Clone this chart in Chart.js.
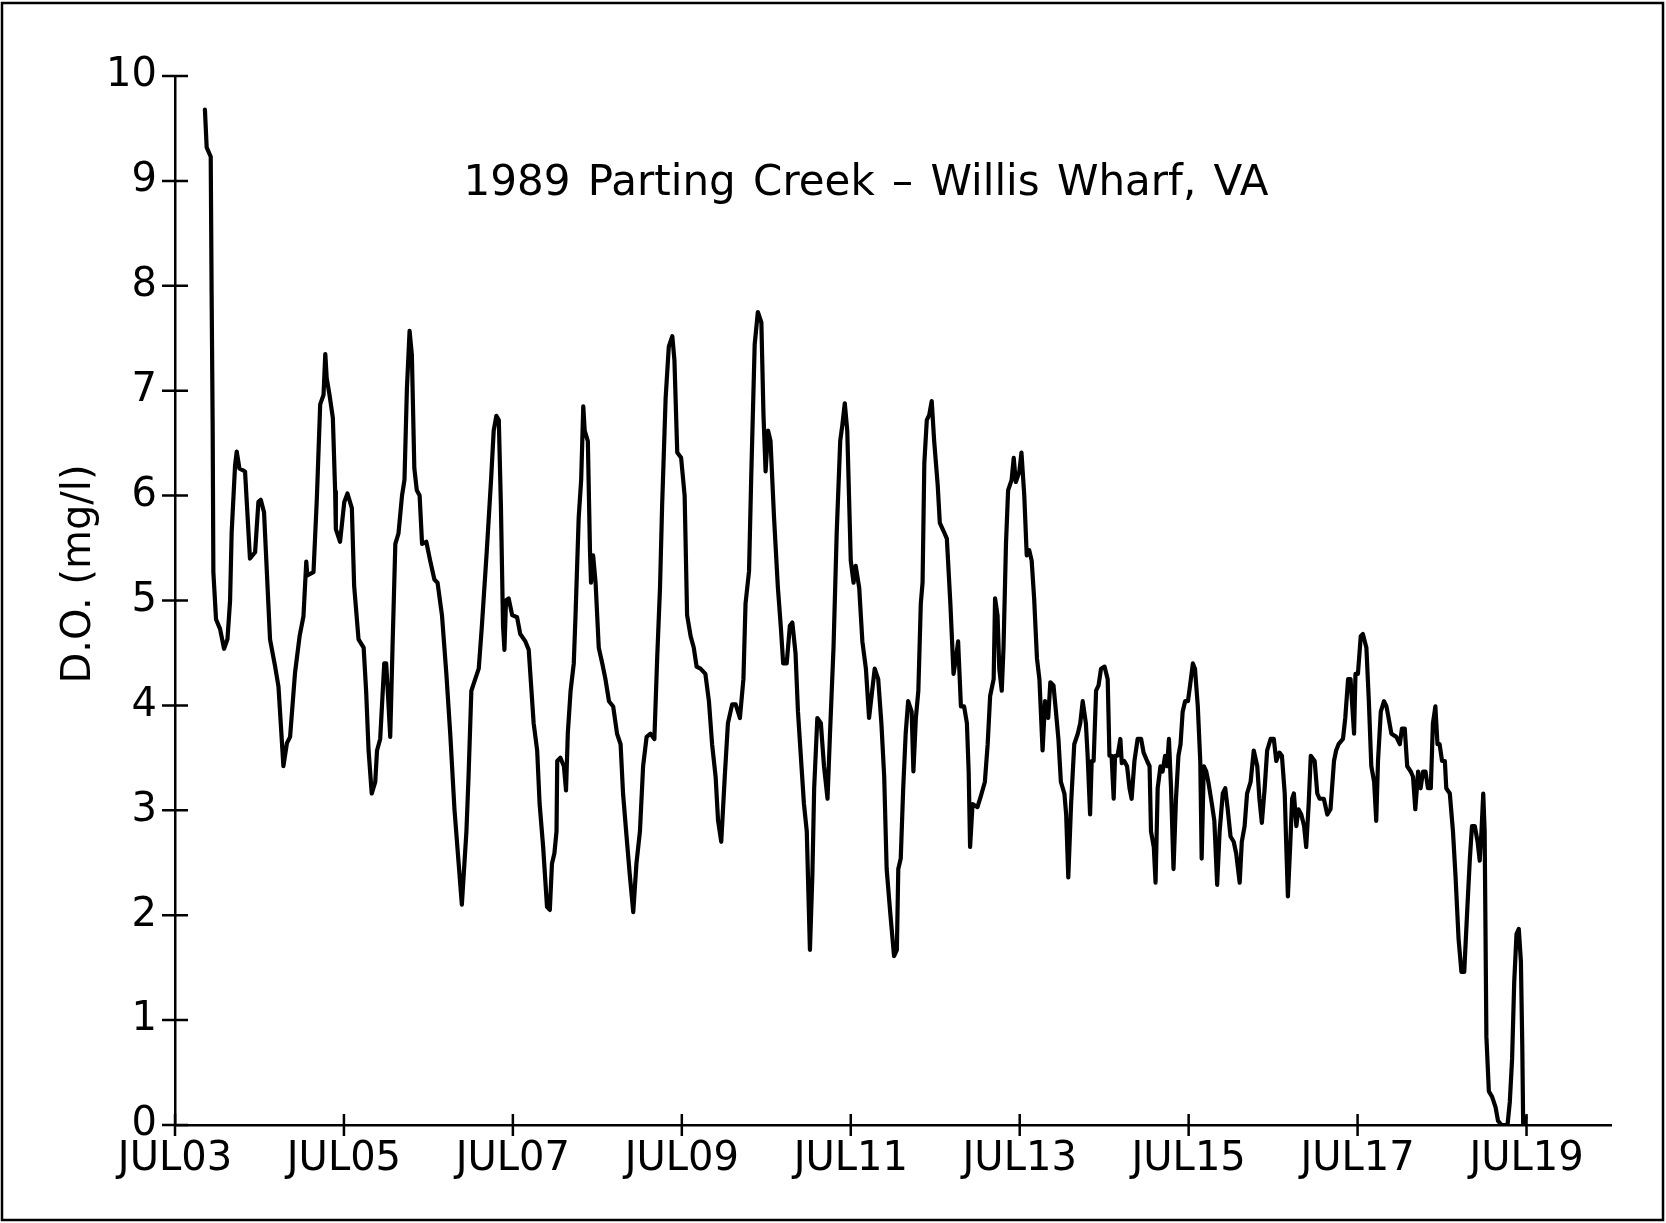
<!DOCTYPE html>
<html>
<head>
<meta charset="utf-8">
<title>1989 Parting Creek - Willis Wharf, VA</title>
<script src="https://cdn.jsdelivr.net/npm/chart.js@4.4.0/dist/chart.umd.min.js"></script>
<style>
  html, body { margin: 0; padding: 0; background: #fff; }
  #wrap { width: 1666px; height: 1223px; }
</style>
</head>
<body>
<div id="wrap"><canvas id="doChart" width="1666" height="1223"></canvas></div>
<script>
// Text
const chartTitle = "1989 Parting Creek – Willis Wharf, VA";
const yAxisTitle = "D.O. (mg/l)";

// x axis: hours since JUL 03 00:00, a tick every two days
const tickHours = [0, 48, 96, 144, 192, 240, 288, 336, 384];
const tickLabels = ["JUL03", "JUL05", "JUL07", "JUL09", "JUL11", "JUL13", "JUL15", "JUL17", "JUL19"];
const yTickValues = [0, 1, 2, 3, 4, 5, 6, 7, 8, 9, 10];

// Sample times (hours since JUL 03 00:00)
const hours = [
  8.5, 9.0, 10.15, 10.4, 10.7, 10.9, 11.66, 12.8, 13.94, 14.9, 15.65, 16.1, 17.07, 17.54, 18.3, 19.9,
  21.3, 22.76, 23.7, 24.37, 25.3, 27.0, 28.4, 29.4, 30.8, 31.8, 32.7, 34.1, 35.4, 36.5, 37.3, 37.6,
  39.35, 40.3, 41.25, 42.2, 42.7, 43.1, 43.9, 44.85, 45.5, 45.7, 46.9, 48.1, 49.0, 50.25, 50.9, 52.15,
  53.6, 54.3, 55.0, 55.9, 56.9, 57.4, 58.3, 59.45, 60.0, 60.4, 61.15, 61.8, 62.6, 63.5, 64.5, 65.2,
  65.9, 66.65, 67.3, 68.0, 68.7, 69.5, 70.2, 71.4, 72.5, 73.7, 74.6, 75.85, 77.1, 78.2, 79.4, 80.6,
  81.5, 82.8, 83.4, 84.2, 85.3, 86.3, 87.2, 88.6, 89.8, 90.55, 91.3, 92.0, 92.6, 93.2, 93.6, 94.05,
  94.8, 95.8, 97.2, 98.1, 99.55, 100.5,
  101.9, 102.9, 103.6, 104.6, 105.7, 106.5, 107.1, 107.8, 108.4, 108.6, 109.5, 110.5, 111.1, 111.6,
  112.4, 113.3, 113.8, 114.7, 115.4, 116.0, 116.4, 117.3, 117.9, 118.2, 118.8, 119.5, 120.4, 121.4,
  122.3, 123.3, 124.5, 125.6, 126.6, 127.3, 128.3, 129.2, 130.2, 131.1, 132.1, 133.0, 134.0, 135.1,
  136.2, 137.0, 137.8, 138.4, 139.4, 140.3, 141.3, 141.9, 142.7, 143.8, 144.8, 145.5, 146.5, 147.4, 148.2,
  149.3, 150.7, 151.7, 152.6, 153.6, 154.3, 155.2, 156.2, 157.1, 158.3, 159.3, 160.5, 161.5, 162.1,
  163.1, 163.7, 164.7, 165.6, 166.6, 167.2, 167.8, 168.5, 169.2, 170.2, 171.3, 172.1, 172.8, 173.8,
  174.7, 175.4, 176.3, 177.0, 178.0, 178.7, 179.5, 179.9, 180.4, 181.1, 181.6, 182.5, 183.5, 184.4,
  185.4, 186.1, 187.1, 188.0, 189.0, 189.6, 190.3, 191.0, 192.0, 192.8, 193.4, 194.4, 195.3, 196.3, 197.2,
  198.8, 199.8, 200.7, 201.5, 202.2, 203.2, 204.3, 205.1, 205.5, 206.2, 206.9, 207.6, 208.3, 209.3,
  209.8, 210.5, 211.2, 211.9, 212.4, 212.9, 213.6, 214.3, 215.0, 215.7, 216.7, 217.3, 218.4, 219.3,
  220.3, 221.2, 221.9, 222.5, 223.3, 224.2, 225.0, 225.5, 225.9, 226.6, 228.0, 229.0, 230.1, 230.9,
  231.6, 232.6, 233.0, 233.7, 234.2, 234.9, 235.4, 236.1, 236.7, 237.7, 238.3, 238.9, 239.9, 240.5,
  241.3, 242.0, 242.7, 243.4, 244.1, 244.9, 245.6,
  246.5, 247.2, 248.1, 248.7, 249.6, 250.3, 251.0, 251.7, 252.7, 253.2, 253.8, 254.6, 255.5, 256.5,
  257.2, 257.9, 258.8, 259.3, 260.0, 260.45, 261.0, 261.7, 262.4, 263.1, 264.1, 265.0, 265.5, 266.1,
  266.7, 267.1, 267.8, 268.6, 269.0, 269.7, 270.5, 271.2, 271.8, 272.6, 273.5, 274.5, 275.2, 276.2,
  276.9, 277.3, 278.1, 278.6, 279.2, 280.0, 280.6, 281.3, 281.9, 282.4, 283.0, 283.7, 284.4, 285.1,
  285.7, 286.3, 287.0, 287.8, 288.4, 289.2, 289.8, 290.6, 291.3, 291.7, 292.3, 293.0, 293.6, 294.6, 295.3,
  296.1, 296.8, 297.7, 298.4, 299.1, 299.9, 300.8, 301.5, 302.5, 303.1, 303.9, 304.6, 305.6, 306.5,
  307.5, 308.1, 308.8, 309.6, 310.3, 311.3, 312.2, 312.9, 313.8, 314.5, 315.3, 315.7, 316.2, 316.9,
  317.4, 317.9, 318.6, 319.2, 320.0, 320.8, 321.4, 322.1, 322.7, 323.8, 324.55, 325.2, 326.4, 327.4,
  328.3, 329.3, 329.9, 330.6, 331.85, 332.5, 333.3, 334.0, 335.0, 335.4, 336.1, 336.9, 337.5, 338.5,
  339.2, 339.9, 340.7, 341.3, 341.8, 342.6,
  343.5, 344.2, 344.8, 345.6, 347.0, 348.0, 348.6, 349.4, 350.1, 351.1, 351.75, 352.4, 353.2, 353.9,
  354.6, 355.3, 356.0, 356.8, 357.4, 358.1, 358.7, 359.3, 360.0, 360.8, 361.2, 362.2, 363.1, 363.8,
  364.7, 365.5, 366.3, 367.2, 367.9, 368.5, 369.3, 370.1, 370.7, 371.2, 371.7, 372.1, 372.6, 373.3,
  374.2, 375.2, 375.9, 376.9, 378.6, 379.25, 379.9, 380.5, 381.15, 381.8, 382.4, 382.8, 383.05, 383.7
];

// Dissolved oxygen (mg/l) at each sample time
const dissolvedOxygen = [
  9.68, 9.32, 9.23, 7.95, 6.67, 5.27, 4.82, 4.73, 4.54, 4.63, 5.0, 5.65, 6.29, 6.42, 6.26, 6.23,
  5.4, 5.46, 5.94, 5.96, 5.84, 4.63, 4.38, 4.18, 3.42, 3.64, 3.7, 4.31, 4.66, 4.85, 5.37, 5.24,
  5.27, 5.97, 6.87, 6.96, 7.35, 7.12, 6.96, 6.74, 6.04, 5.68, 5.56, 5.94, 6.02, 5.88, 5.14, 4.63,
  4.55, 4.14, 3.57, 3.16, 3.27, 3.57, 3.68, 4.4, 4.4, 4.17, 3.70, 4.55, 5.54, 5.64, 6.0, 6.15,
  7.03, 7.57, 7.34, 6.26, 6.05, 6.0, 5.54, 5.56, 5.38, 5.2, 5.17, 4.86, 4.3, 3.73, 3.01, 2.49,
  2.1, 2.8, 3.32, 4.14, 4.25, 4.35, 4.76, 5.48, 6.15, 6.62, 6.76, 6.72, 5.9, 4.76, 4.53, 5.0,
  5.02, 4.86, 4.84, 4.68, 4.61, 4.53,
  3.83, 3.57, 3.06, 2.65, 2.08, 2.05, 2.49, 2.59, 2.8, 3.47, 3.5, 3.42, 3.19, 3.73,
  4.14, 4.4, 4.86, 5.79, 6.15, 6.85, 6.62, 6.52, 5.48, 5.17, 5.43, 5.17, 4.55, 4.4,
  4.25, 4.04, 3.99, 3.73, 3.63, 3.16, 2.75, 2.39, 2.03, 2.49, 2.8, 3.42, 3.7, 3.73,
  3.68, 4.45, 5.12, 5.9, 6.93, 7.42, 7.52, 7.29, 6.41, 6.36, 6.0, 4.86, 4.66, 4.55, 4.37,
  4.35, 4.30, 4.04, 3.63, 3.32, 2.9, 2.7, 3.32, 3.83, 4.01, 4.01, 3.88, 4.25, 4.97,
  5.28, 6.15, 7.44, 7.75, 7.65, 6.77, 6.23, 6.62, 6.52, 5.79, 5.12, 4.76, 4.4, 4.4,
  4.76, 4.79, 4.5, 3.94, 3.42, 3.06, 2.8, 2.29, 1.67, 2.39, 3.21, 3.88, 3.83, 3.42,
  3.11, 3.73, 4.55, 5.64, 6.52, 6.67, 6.88, 6.62, 5.38, 5.17, 5.33, 5.12, 4.61, 4.35, 3.88,
  4.35, 4.25, 3.83, 3.32, 2.44, 2.03, 1.61, 1.67, 2.44, 2.54, 3.21, 3.73, 4.04, 3.94,
  3.37, 3.88, 4.14, 4.97, 5.17, 6.31, 6.72, 6.77, 6.9, 6.52, 6.1, 5.74, 5.66, 5.59,
  4.97, 4.3, 4.45, 4.61, 3.99, 3.99, 3.83, 3.37, 2.65, 3.06, 3.03, 3.14, 3.27, 3.63,
  4.09, 4.25, 5.02, 4.86, 4.35, 4.14, 4.55, 5.54, 6.05, 6.15, 6.36, 6.13, 6.23, 6.41,
  6.0, 5.43, 5.48, 5.38, 5.02, 4.45, 4.25,
  3.57, 4.04, 3.88, 4.22, 4.19, 3.94, 3.68, 3.27, 3.16, 2.96, 2.36, 3.06, 3.63, 3.73,
  3.83, 4.04, 3.83, 3.52, 2.96, 3.47, 3.47, 4.14, 4.19, 4.35, 4.37, 4.25, 3.52, 3.52,
  3.11, 3.52, 3.52, 3.68, 3.45, 3.47, 3.42, 3.21, 3.11, 3.47, 3.68, 3.68, 3.55, 3.47,
  3.42, 2.8, 2.65, 2.31, 3.21, 3.42, 3.37, 3.52, 3.42, 3.68, 3.21, 2.44, 3.11, 3.52,
  3.63, 3.94, 4.04, 4.04, 4.19, 4.4, 4.35, 3.99, 3.47, 2.54, 3.42, 3.37, 3.27, 3.06, 2.9,
  2.29, 2.8, 3.16, 3.21, 3.01, 2.75, 2.7, 2.59, 2.31, 2.7, 2.85, 3.16, 3.27, 3.57,
  3.42, 3.11, 2.88, 3.21, 3.57, 3.68, 3.68, 3.47, 3.55, 3.52, 3.16, 2.7, 2.18, 2.7,
  3.11, 3.16, 2.85, 3.01, 2.96, 2.85, 2.65, 3.06, 3.52, 3.47, 3.16, 3.11, 3.11, 2.96,
  3.01, 3.47, 3.57, 3.63, 3.68, 3.88, 4.25, 4.25, 3.73, 4.3, 4.3, 4.66, 4.68, 4.55,
  4.04, 3.42, 3.27, 2.9, 3.47, 3.94,
  4.04, 3.99, 3.88, 3.73, 3.7, 3.63, 3.78, 3.78, 3.42, 3.37, 3.32, 3.01, 3.37, 3.21,
  3.37, 3.37, 3.21, 3.21, 3.83, 3.99, 3.63, 3.63, 3.47, 3.47, 3.21, 3.16, 2.8, 2.39,
  1.77, 1.46, 1.46, 2.08, 2.54, 2.85, 2.85, 2.7, 2.52, 2.8, 3.16, 2.8, 0.84, 0.32,
  0.27, 0.17, 0.04, 0.0, 0.0, 0.22, 0.63, 1.36, 1.82, 1.87, 1.56, 0.74, 0.0, 0.07
];

document.addEventListener("DOMContentLoaded", function () {
  if (hours.length !== dissolvedOxygen.length) {
    console.log("data length mismatch", hours.length, dissolvedOxygen.length);
  }
  drawChart();
});

// Ticks that cross the axis lines, the titles and the outer frame
const plotDecorations = {
  id: "plotDecorations",
  afterDraw(chart) {
    const ctx = chart.ctx;
    const area = chart.chartArea;
    const xScale = chart.scales.x;
    const yScale = chart.scales.y;

    ctx.save();
    ctx.strokeStyle = "#000";
    ctx.lineWidth = 2.5;
    ctx.beginPath();
    tickHours.forEach((h) => {
      const px = xScale.getPixelForValue(h);
      ctx.moveTo(px, area.bottom - 11);
      ctx.lineTo(px, area.bottom + 11);
    });
    yTickValues.forEach((v) => {
      const py = yScale.getPixelForValue(v);
      ctx.moveTo(area.left - 13, py);
      ctx.lineTo(area.left + 13, py);
    });
    ctx.stroke();

    ctx.fillStyle = "#000";
    ctx.textAlign = "center";
    ctx.textBaseline = "middle";
    ctx.font = '42px "DejaVu Sans"';
    if ("wordSpacing" in ctx) ctx.wordSpacing = "4px";
    ctx.fillText(chartTitle, 866, 184);
    if ("wordSpacing" in ctx) ctx.wordSpacing = "0px";

    ctx.save();
    ctx.translate(80, 574);
    ctx.rotate(-Math.PI / 2);
    ctx.font = '40px "DejaVu Sans"';
    ctx.fillText(yAxisTitle, 0, 0);
    ctx.restore();

    ctx.lineWidth = 2.5;
    ctx.strokeRect(2, 3, 1661, 1217);
    ctx.restore();
  },
};

function drawChart() {
  const ctx = document.getElementById("doChart");
  const points = hours.map((h, i) => ({ x: h, y: dissolvedOxygen[i] }));
  const tickFont = { family: "DejaVu Sans", size: 40 };

  new Chart(ctx, {
    type: "line",
    data: {
      datasets: [
        {
          label: "D.O.",
          data: points,
          borderColor: "#000",
          borderWidth: 4.2,
          borderJoinStyle: "round",
          borderCapStyle: "round",
          pointRadius: 0,
          fill: false,
          tension: 0,
        },
      ],
    },
    options: {
      responsive: false,
      animation: false,
      devicePixelRatio: 1,
      layout: {
        padding: { left: 0, right: 55, top: 76, bottom: 0 },
      },
      plugins: {
        legend: { display: false },
        tooltip: { enabled: false },
      },
      scales: {
        x: {
          type: "linear",
          min: 0,
          max: 408,
          afterBuildTicks: (scale) => {
            scale.ticks = tickHours.map((v) => ({ value: v }));
          },
          afterFit: (scale) => {
            scale.height = 98;
          },
          grid: { display: false, drawTicks: false },
          border: { display: true, color: "#000", width: 2.5 },
          ticks: {
            padding: 11,
            color: "#000",
            font: tickFont,
            maxRotation: 0,
            autoSkip: false,
            callback: (value) => tickLabels[tickHours.indexOf(value)],
          },
        },
        y: {
          type: "linear",
          min: 0,
          max: 10,
          afterBuildTicks: (scale) => {
            scale.ticks = yTickValues.map((v) => ({ value: v }));
          },
          afterFit: (scale) => {
            scale.width = 175;
          },
          grid: { display: false, drawTicks: false },
          border: { display: true, color: "#000", width: 2.5 },
          ticks: {
            padding: 18,
            color: "#000",
            font: tickFont,
            callback: (value) => String(value),
          },
        },
      },
    },
    plugins: [plotDecorations],
  });
}
</script>
</body>
</html>
